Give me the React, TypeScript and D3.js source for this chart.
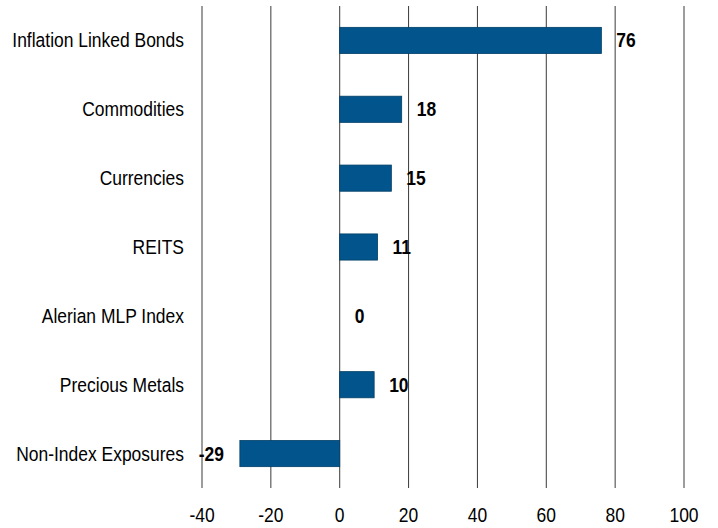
import React from "react";
import * as d3 from "d3";

const categories = [
  "Inflation Linked Bonds",
  "Commodities",
  "Currencies",
  "REITS",
  "Alerian MLP Index",
  "Precious Metals",
  "Non-Index Exposures",
];
const values = [76, 18, 15, 11, 0, 10, -29];
const ticks = [-40, -20, 0, 20, 40, 60, 80, 100];

const W = 718;
const H = 528;
const FONT = "'Liberation Sans', Arial, sans-serif";
const FS = 19.5;
const SX = 0.895;

function T(props: { x: number; y: number; anchor: string; bold?: boolean; children: React.ReactNode }) {
  return (
    <text
      transform={`translate(${props.x},${props.y}) scale(${SX},1)`}
      dy="0.36em"
      textAnchor={props.anchor}
      fontSize={FS}
      fontWeight={props.bold ? "bold" : "normal"}
      fontFamily={FONT}
      fill="#000"
    >
      {props.children}
    </text>
  );
}

export default function App() {
  const x = d3.scaleLinear().domain([-40, 100]).range([202, 684]);
  const y = d3.scaleBand<string>().domain(categories).range([6, 488]).paddingInner(0.62).paddingOuter(0.31);
  const bh = y.bandwidth();
  return (
    <svg width={W} height={H} style={{ position: "absolute", left: 0, top: 0, background: "#fff" }}>
      {ticks.map((t) => (
        <g key={t}>
          <line x1={x(t)} x2={x(t)} y1={6} y2={488} stroke="#3a3a3a" strokeWidth={1} />
          <T x={x(t)} y={515} anchor="middle">{t}</T>
        </g>
      ))}
      {categories.map((c, i) => {
        const v = values[i];
        const cy = (y(c) as number) + bh / 2;
        const x0 = x(Math.min(0, v));
        const x1 = x(Math.max(0, v));
        return (
          <g key={c}>
            <T x={184} y={cy} anchor="end">{c}</T>
            {v !== 0 && (
              <rect x={x0} y={y(c)} width={x1 - x0} height={bh} fill="#02558c" stroke="#023e66" strokeWidth={0.8} />
            )}
            <T x={v < 0 ? x(v) - 16 : x(v) + 15} y={cy} anchor={v < 0 ? "end" : "start"} bold>
              {v}
            </T>
          </g>
        );
      })}
    </svg>
  );
}
